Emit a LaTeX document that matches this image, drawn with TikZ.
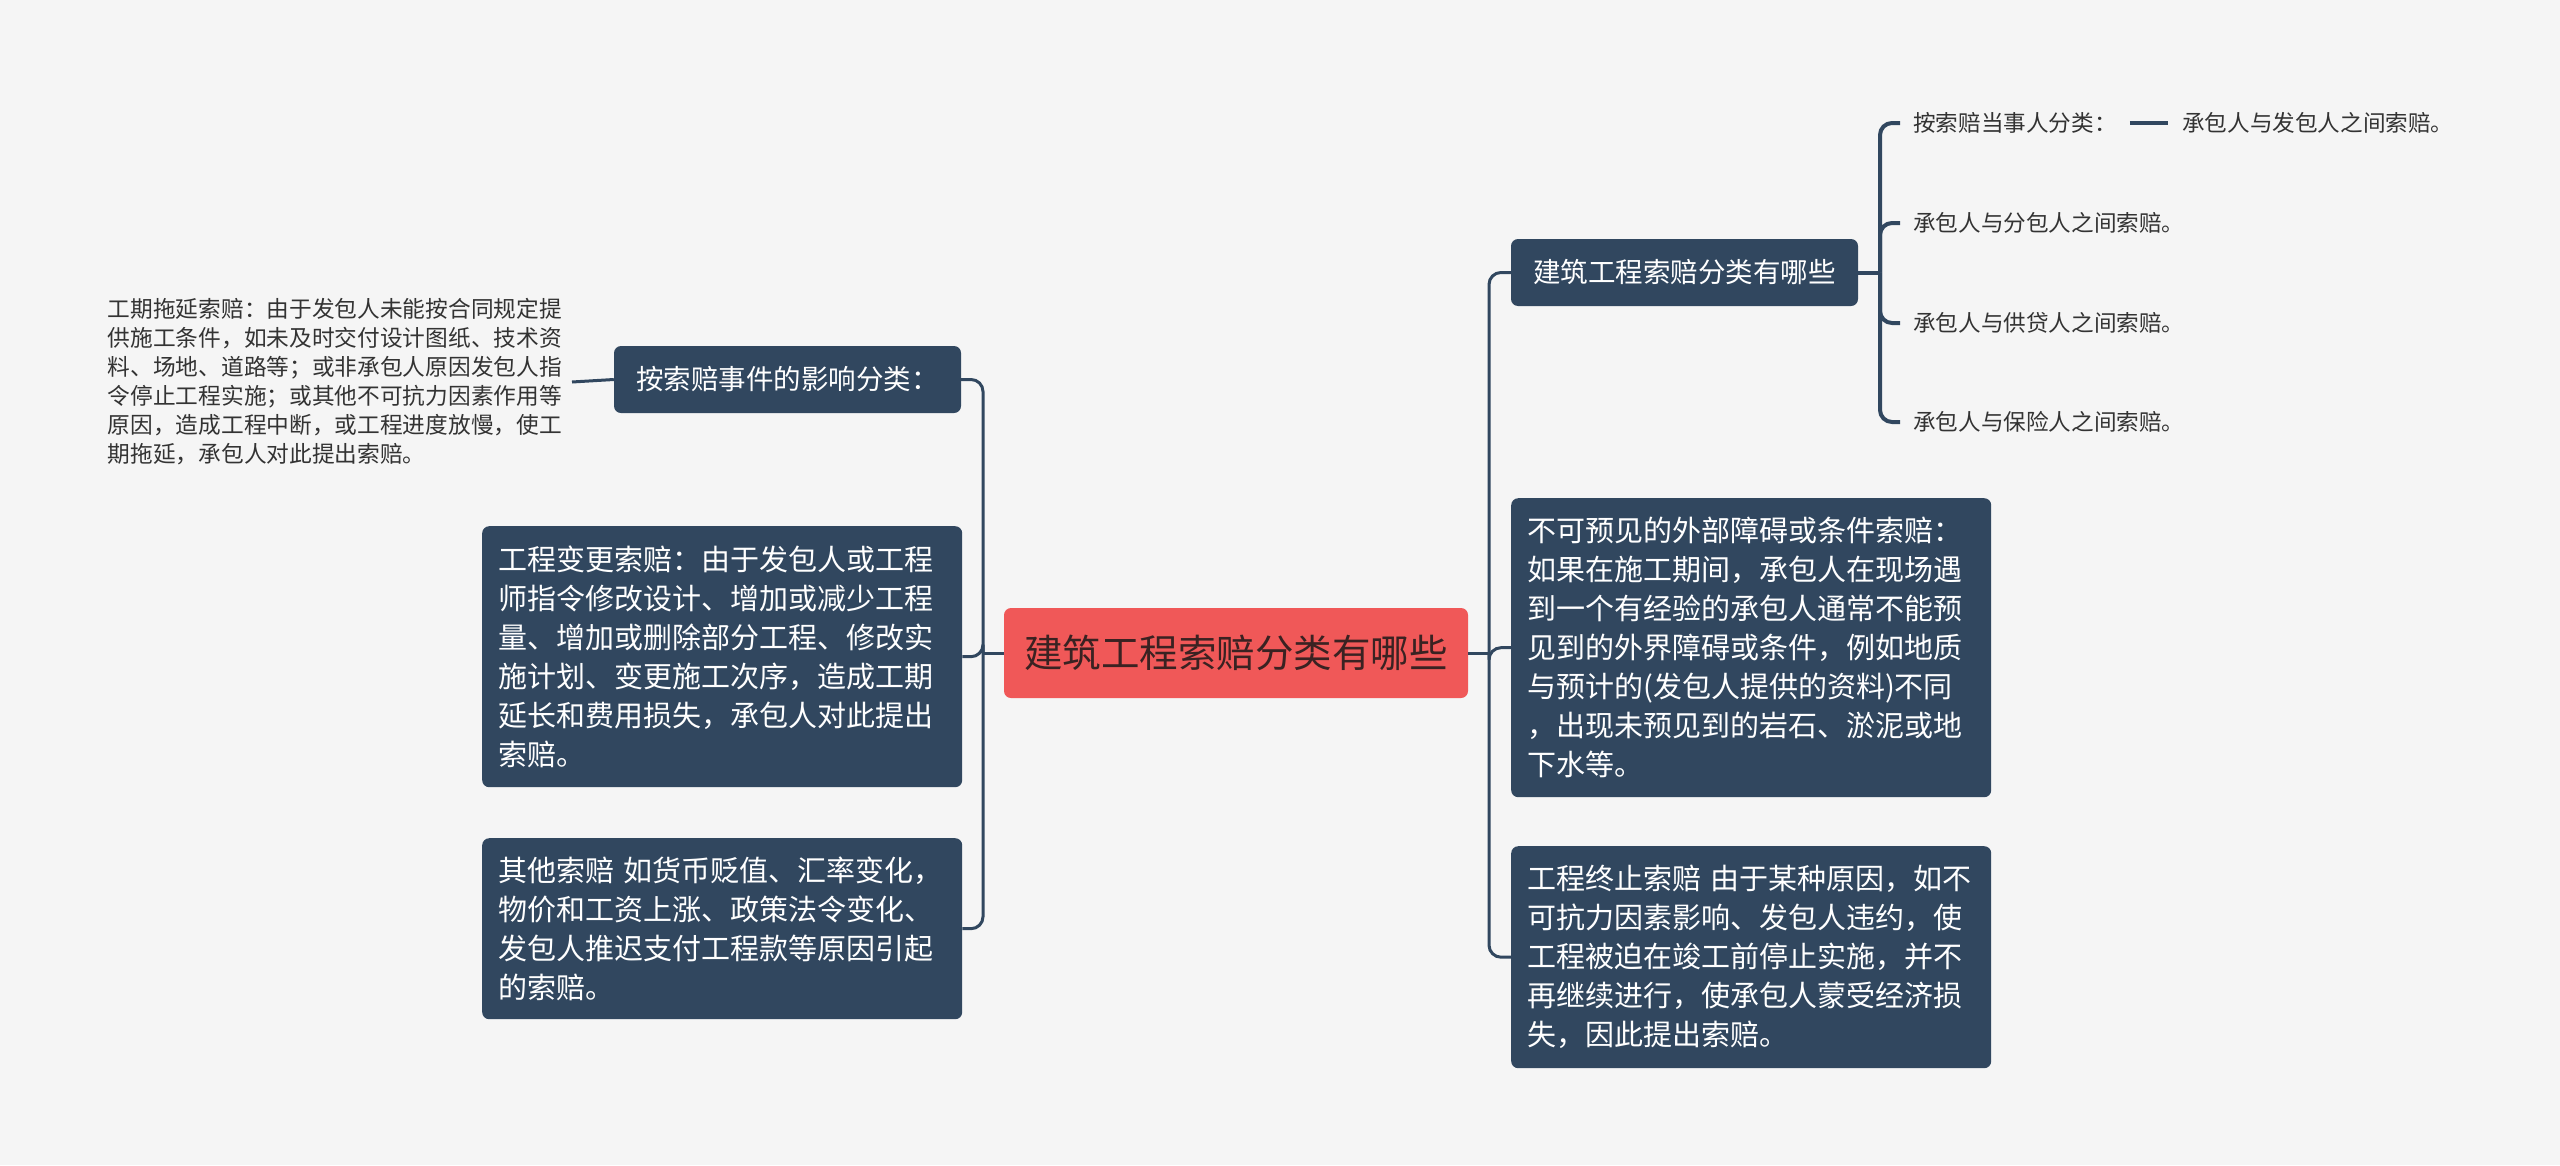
\documentclass[tikz,border=0pt]{standalone}
\usepackage{fontspec}
\setmainfont{Noto Sans CJK SC}
\definecolor{bgcol}{HTML}{F5F5F5}
\definecolor{boxcol}{HTML}{31475F}
\definecolor{rootcol}{HTML}{F05858}
\definecolor{roottxt}{HTML}{3A2222}
\definecolor{txtcol}{HTML}{333333}
\begin{document}
\begin{tikzpicture}[x=1pt, y=-1pt,
  branch/.style={boxcol, line width=3pt},
  subbranch/.style={boxcol, line width=4pt},
  rootbox/.style={fill=rootcol, text=roottxt, rounded corners=7pt, minimum width=464pt, minimum height=90pt, font=\fontsize{38.5}{46}\selectfont},
  topicbox/.style={fill=boxcol, text=white, rounded corners=7pt, minimum width=347pt, minimum height=67pt, font=\fontsize{27.5}{33}\selectfont},
  textbox/.style={fill=boxcol, text=white, rounded corners=7pt, anchor=north west, inner xsep=16pt, text width=448pt, align=left, font=\fontsize{29}{39}\selectfont},
  leaf/.style={text=txtcol, inner xsep=13pt, anchor=west, font=\fontsize{22.6}{27}\selectfont}]
\fill[bgcol] (0,0) rectangle (2560,1165);
\useasboundingbox (0,0) rectangle (2560,1165);
% 中心主题
\node[rootbox] (root) at (1236,653) {建筑工程索赔分类有哪些};
% 左侧分支
\node[topicbox] (effect) at (787.5,379.5) {按索赔事件的影响分类：};
\node[text=txtcol, anchor=east, inner xsep=10pt, inner ysep=0pt, text width=454pt, align=left, font=\fontsize{22.7}{29}\selectfont] (delay) at (572,382)
  {工期拖延索赔：由于发包人未能按合同规定提\\供施工条件，如未及时交付设计图纸、技术资\\料、场地、道路等；或非承包人原因发包人指\\令停止工程实施；或其他不可抗力因素作用等\\原因，造成工程中断，或工程进度放慢，使工\\期拖延，承包人对此提出索赔。};
\node[textbox, minimum height=261pt] (change) at (482,526)
  {工程变更索赔：由于发包人或工程\\师指令修改设计、增加或减少工程\\量、增加或删除部分工程、修改实\\施计划、变更施工次序，造成工期\\延长和费用损失，承包人对此提出\\索赔。};
\node[textbox, minimum height=181pt] (other) at (482,838)
  {其他索赔 如货币贬值、汇率变化，\\物价和工资上涨、政策法令变化、\\发包人推迟支付工程款等原因引起\\的索赔。};
% 右侧分支
\node[topicbox] (kind) at (1684.5,272.5) {建筑工程索赔分类有哪些};
\node[leaf] (party) at (1900,123) {按索赔当事人分类：};
\node[leaf, inner xsep=14pt] (owner) at (2168,123) {承包人与发包人之间索赔。};
\node[leaf] (sub) at (1900,223) {承包人与分包人之间索赔。};
\node[leaf] (supply) at (1900,323) {承包人与供贷人之间索赔。};
\node[leaf] (insure) at (1900,422) {承包人与保险人之间索赔。};
\node[textbox, minimum height=299pt] (unforeseen) at (1511,498)
  {不可预见的外部障碍或条件索赔：\\如果在施工期间，承包人在现场遇\\到一个有经验的承包人通常不能预\\见到的外界障碍或条件，例如地质\\与预计的(发包人提供的资料)不同\\，出现未预见到的岩石、淤泥或地\\下水等。};
\node[textbox, minimum height=222pt] (stop) at (1511,846)
  {工程终止索赔 由于某种原因，如不\\可抗力因素影响、发包人违约，使\\工程被迫在竣工前停止实施，并不\\再继续进行，使承包人蒙受经济损\\失，因此提出索赔。};
% 连线
\coordinate (lj) at (983,653);
\coordinate (rj) at (1489,653);
\coordinate (kj) at (1880,272.5);
\draw[branch] (root.west) -- (lj);
\draw[branch] (root.east) -- (rj);
\foreach \n in {effect, change, other}
  \draw[branch, rounded corners=12pt] (lj) |- (\n.east);
\foreach \n in {kind, unforeseen, stop}
  \draw[branch, rounded corners=12pt] (rj) |- (\n.west);
\draw[branch] (effect.west) -- (delay.east);
\draw[subbranch] (kind.east) -- (kj);
\foreach \n in {party, sub, supply, insure}
  \draw[subbranch, rounded corners=12pt] (kj) |- (\n.west);
\draw[subbranch] (party.east) -- (owner.west);
\end{tikzpicture}
\end{document}
